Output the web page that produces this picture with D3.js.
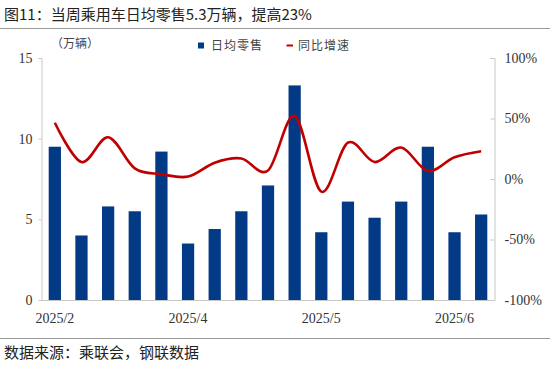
<!DOCTYPE html>
<html><head><meta charset="utf-8">
<script src="https://cdn.jsdelivr.net/npm/d3@7"></script>
<style>body{margin:0;background:#fff}svg{display:block}</style>
</head><body>
<script>
const categories = ["2025/2","W2","W3","W4","W5","2025/4","W7","W8","W9","W10","2025/5","W12","W13","W14","W15","2025/6","W17"];
const dailyRetail = [9.5,4.0,5.8,5.5,9.2,3.5,4.4,5.5,7.1,13.3,4.2,6.1,5.1,6.1,9.5,4.2,5.3];
const yoyGrowth = [46.5,14,34.5,8.8,4,2,13.5,17,7,52,-10.5,30,14,26,6.6,18,23];
const xTickLabels = ["2025/2","2025/4","2025/5","2025/6"];
const xTickIndex = [0,5,10,15];
const leftTicks = [0,5,10,15];
const rightTicks = [-100,-50,0,50,100];
const titleText = "图11：当周乘用车日均零售5.3万辆，提高23%";
const sourceText = "数据来源：乘联会，钢联数据";
const unitText = "（万辆）";
const legendNames = ["日均零售","同比增速"];

const W=550,H=367;
const m={l:41.5,r:494.5,t:58,b:300};
const svg=d3.select("body").append("svg").attr("width",W).attr("height",H);
const cjk="'Noto Sans CJK SC','Noto Sans',sans-serif";
const serif="'Liberation Serif','Times New Roman',serif";

svg.append("text").attr("x",4).attr("y",20).attr("font-family",cjk).attr("font-size",15).attr("fill","#222").text(titleText);
svg.append("line").attr("x1",0).attr("x2",W).attr("y1",28.5).attr("y2",28.5).attr("stroke","#9a9a9a").attr("stroke-width",1.2);
svg.append("line").attr("x1",0).attr("x2",W).attr("y1",338.5).attr("y2",338.5).attr("stroke","#9a9a9a").attr("stroke-width",1.2);
svg.append("text").attr("x",4).attr("y",358).attr("font-family",cjk).attr("font-size",15).attr("fill","#222").text(sourceText);

const x=d3.scaleBand().domain(d3.range(categories.length)).range([m.l,m.r]).paddingInner(0.54).paddingOuter(0.27);
const yL=d3.scaleLinear().domain([0,15]).range([m.b,m.t]);
const yR=d3.scaleLinear().domain([-100,100]).range([m.b,m.t]);

// axes
const gl=svg.append("g").attr("transform",`translate(${m.l},0)`).call(d3.axisLeft(yL).tickValues(leftTicks).tickSize(3).tickPadding(6));
const gr=svg.append("g").attr("transform",`translate(${m.r},0)`).call(d3.axisRight(yR).tickValues(rightTicks).tickFormat(d=>d+"%").tickSize(-4).tickPadding(10));
[gl,gr].forEach(g=>{
  g.select(".domain").attr("stroke","#c8c8c8");
  g.selectAll(".tick line").attr("stroke","#c8c8c8");
  g.selectAll("text").attr("font-family",serif).attr("font-size",14).attr("fill","#333");
});
svg.append("line").attr("x1",m.l).attr("x2",m.r).attr("y1",m.b+0.5).attr("y2",m.b+0.5).attr("stroke","#c8c8c8");

// bars
svg.append("g").selectAll("rect").data(dailyRetail).join("rect")
  .attr("x",(d,i)=>x(i)).attr("width",x.bandwidth())
  .attr("y",d=>yL(d)).attr("height",d=>yL(0)-yL(d)).attr("fill","#033a86");

// line
const line=d3.line().x((d,i)=>x(i)+x.bandwidth()/2).y(d=>yR(d)).curve(d3.curveCatmullRom.alpha(0));
svg.append("path").datum(yoyGrowth).attr("d",line).attr("fill","none").attr("stroke","#c00000").attr("stroke-width",2.6);

// x labels
svg.append("g").selectAll("text").data(xTickIndex).join("text")
  .attr("x",i=>x(i)+x.bandwidth()/2).attr("y",323).attr("text-anchor","middle")
  .attr("font-family",serif).attr("font-size",14).attr("fill","#333").text((d,k)=>xTickLabels[k]);

// unit
svg.append("text").attr("x",51).attr("y",48).attr("font-family",cjk).attr("font-size",12).attr("fill","#444").text(unitText);

// legend
svg.append("rect").attr("x",198).attr("y",42.5).attr("width",6).attr("height",6).attr("fill","#033a86");
svg.append("text").attr("x",211).attr("y",50).attr("font-family",cjk).attr("font-size",12).attr("letter-spacing",1).attr("fill","#444").text(legendNames[0]);
svg.append("line").attr("x1",286.5).attr("x2",293).attr("y1",45.5).attr("y2",45.5).attr("stroke","#c00000").attr("stroke-width",2);
svg.append("text").attr("x",298).attr("y",50).attr("font-family",cjk).attr("font-size",12).attr("letter-spacing",1).attr("fill","#444").text(legendNames[1]);
</script>
</body></html>
